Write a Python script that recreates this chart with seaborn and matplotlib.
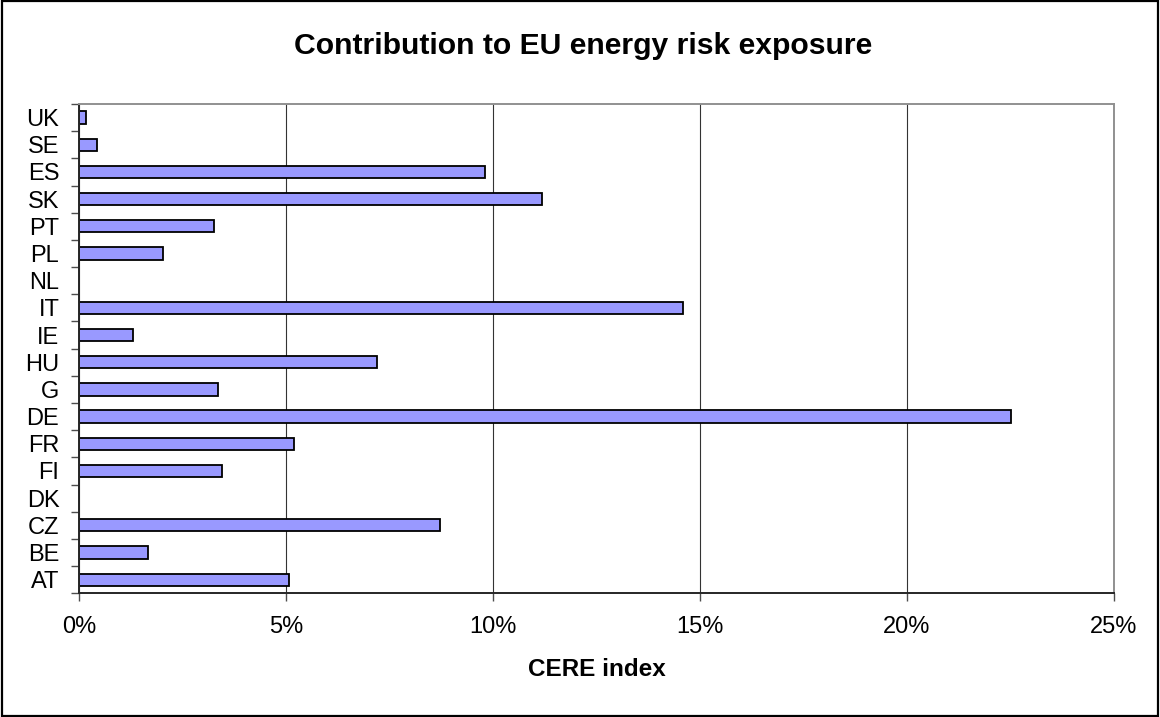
import matplotlib
matplotlib.use("Agg")
import matplotlib.pyplot as plt
import seaborn as sns
import numpy as np
import pandas as pd
from matplotlib.patches import Rectangle
from matplotlib.ticker import FuncFormatter

# --- data (top to bottom) ---
countries = ["UK", "SE", "ES", "SK", "PT", "PL", "NL", "IT", "IE",
             "HU", "G", "DE", "FR", "FI", "DK", "CZ", "BE", "AT"]
cere_pct = [0.15, 0.42, 9.81, 11.19, 3.26, 2.03, 0.0, 14.59, 1.29,
            7.20, 3.35, 22.53, 5.18, 3.45, 0.0, 8.72, 1.66, 5.06]
x_ticks = [0, 5, 10, 15, 20, 25]

df = pd.DataFrame({"country": countries, "cere": cere_pct})

sns.set_style("white")
plt.rcParams["font.family"] = ["Liberation Sans", "DejaVu Sans"]
plt.rcParams["text.color"] = "black"
plt.rcParams["axes.labelcolor"] = "black"
plt.rcParams["xtick.labelcolor"] = "black"
plt.rcParams["ytick.labelcolor"] = "black"

fig = plt.figure(figsize=(11.6, 7.17), dpi=100)
ax = fig.add_axes([0.0684, 0.1725, 0.8916, 0.6825])

sns.barplot(data=df, x="cere", y="country", order=countries, orient="h",
            color="#9999FF", saturation=1, width=0.45,
            edgecolor="black", linewidth=1.3, ax=ax)

# x axis: percent ticks + vertical gridlines
ax.set_xlim(0, 25)
ax.set_xticks(x_ticks)
ax.xaxis.set_major_formatter(FuncFormatter(lambda v, p: f"{v:.0f}%"))
ax.grid(axis="x", color="0.2", linewidth=0.8)
ax.set_axisbelow(True)
ax.tick_params(axis="x", which="major", direction="out", length=6,
               width=1, color="0.3", labelcolor="black", pad=10,
               labelsize=17, bottom=True)

# y axis: ticks between categories, labels at centres (excel style)
n = len(countries)
ax.set_yticks(np.arange(-0.5, n, 1))
ax.set_yticklabels([])
ax.set_yticks(np.arange(n), minor=True)
ax.set_yticklabels(countries, minor=True)
ax.tick_params(axis="y", which="major", direction="out", length=5.5,
               width=1, color="0.3", left=True)
ax.tick_params(axis="y", which="minor", length=0, pad=14.4, labelsize=17,
               labelcolor="black")
ax.set_ylabel("")

for side in ["left", "bottom"]:
    ax.spines[side].set_color("0.15")
    ax.spines[side].set_linewidth(1.4)
for side in ["top", "right"]:
    ax.spines[side].set_color("#909090")
    ax.spines[side].set_linewidth(1.4)

ax.set_xlabel("CERE index", fontsize=17.5, fontweight="bold", color="black")
ax.xaxis.set_label_coords(0.5, -0.133)

fig.suptitle("Contribution to EU energy risk exposure", x=0.5026, y=1 - 54.3 / 717,
             va="baseline", fontsize=21.7, fontweight="bold", color="black")

# outer chart border
fig.patches.append(Rectangle((0.002, 0.002), 0.996, 0.996, transform=fig.transFigure,
                             fill=False, edgecolor="black", linewidth=1.6))

plt.savefig("out.png", dpi=100)
